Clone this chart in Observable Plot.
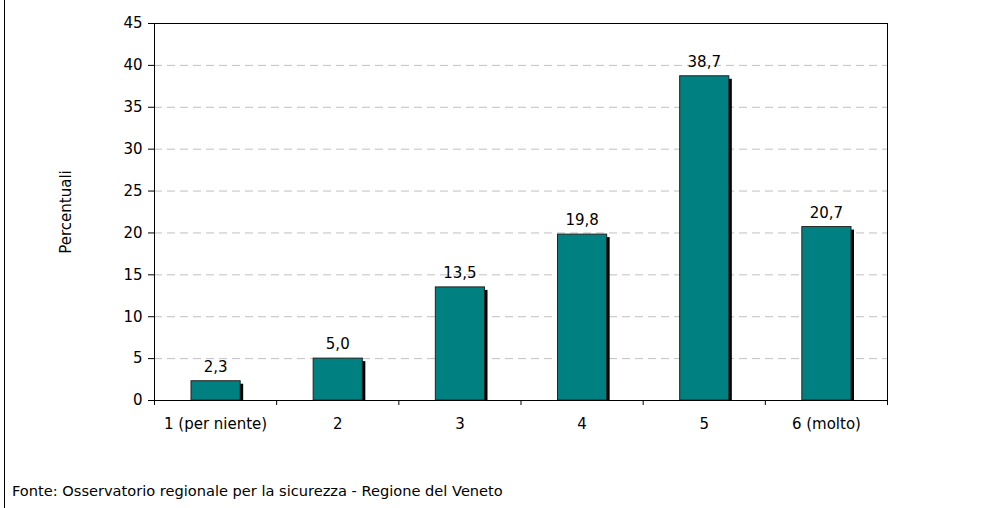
<!DOCTYPE html>
<html>
<head>
<meta charset="utf-8">
<script src="https://cdn.jsdelivr.net/npm/d3@7"></script>
<script src="https://cdn.jsdelivr.net/npm/@observablehq/plot@0.6"></script>
<style>
  html, body { margin: 0; padding: 0; background: #fff; }
  #wrap { position: relative; width: 981px; height: 508px; overflow: hidden; }
  #edge { position: absolute; left: 4px; top: 0; width: 1px; height: 508px; background: #000; }
  #caption { font-family: "DejaVu Sans", sans-serif; font-size: 14.6px; line-height: 18px; padding: 12px 0 0 12px; color: #000; }
  svg { display: block; }
</style>
</head>
<body>
<div id="wrap"><div id="edge"></div><div id="chart"></div><div id="caption"></div></div>
<script>
const categories = ["1 (per niente)", "2", "3", "4", "5", "6 (molto)"];
const values = [2.3, 5.0, 13.5, 19.8, 38.7, 20.7];
const yTicks = [0, 5, 10, 15, 20, 25, 30, 35, 40, 45];
const gridTicks = [5, 10, 15, 20, 25, 30, 35, 40];
const yLabel = "Percentuali";
const captionText = "Fonte: Osservatorio regionale per la sicurezza - Regione del Veneto";

const rows = categories.map((c, i) => ({cat: c, v: values[i], x1: i, x2: i + 1, xc: i + 0.5,
  lbl: values[i].toFixed(1).replace(".", ",")}));

const chart = Plot.plot({
  width: 981,
  height: 470,
  marginLeft: 154,
  marginRight: 94,
  marginTop: 23,
  marginBottom: 70,
  style: {fontFamily: "DejaVu Sans, sans-serif", fontSize: "15px", color: "#000", background: "#fff"},
  x: {domain: [0, categories.length]},
  y: {domain: [0, 45]},
  marks: [
    Plot.ruleY(gridTicks, {stroke: "#c0c0c0", strokeDasharray: "8,5", strokeWidth: 1}),
    Plot.rectY(rows, {x1: "x1", x2: "x2", y: "v", insetLeft: 37, insetRight: 36, dx: 3, insetTop: 3, fill: "#000"}),
    Plot.rectY(rows, {x1: "x1", x2: "x2", y: "v", insetLeft: 37, insetRight: 36, fill: "#008080", stroke: "#222", strokeWidth: 1}),
    Plot.text(rows, {x: "xc", y: "v", text: "lbl", dy: -14, fill: "#000"}),
    Plot.text(rows, {x: "xc", y: 0, text: "cat", dy: 24, fill: "#000"}),
    Plot.frame({stroke: "#000", strokeWidth: 1}),
    Plot.axisY({ticks: yTicks, tickSize: 6, tickPadding: 6, label: yLabel, labelAnchor: "center", labelArrow: "none", labelOffset: 94}),
    Plot.axisX({ticks: d3.range(0, categories.length + 1), tickFormat: () => "", tickSize: 5, label: null})
  ]
});
document.getElementById("chart").appendChild(chart);
document.getElementById("caption").textContent = captionText;
</script>
</body>
</html>
